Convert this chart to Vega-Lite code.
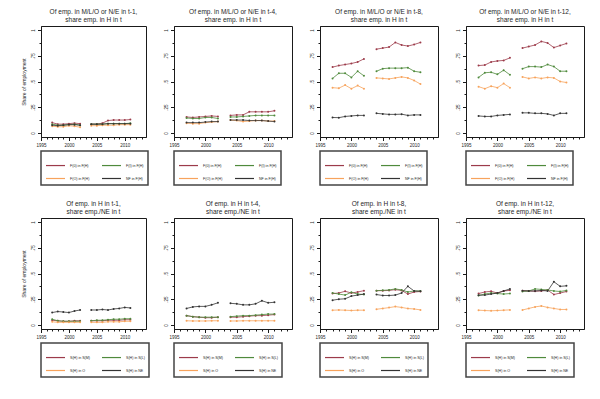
{
  "$schema": "https://vega.github.io/schema/vega-lite/v6.json",
  "background": "white",
  "padding": {"left": 20, "top": 8, "right": 5, "bottom": 5},
  "datasets": {
    "d": [
      {"p":1,"yr":1997,"g":1,"s1":0.10,"s2":0.085,"s3":0.065,"s4":0.075},
      {"p":1,"yr":1998,"g":1,"s1":0.085,"s2":0.075,"s3":0.06,"s4":0.07},
      {"p":1,"yr":1999,"g":1,"s1":0.085,"s2":0.075,"s3":0.06,"s4":0.075},
      {"p":1,"yr":2000,"g":1,"s1":0.09,"s2":0.08,"s3":0.07,"s4":0.08},
      {"p":1,"yr":2001,"g":1,"s1":0.095,"s2":0.085,"s3":0.065,"s4":0.08},
      {"p":1,"yr":2002,"g":1,"s1":0.09,"s2":0.075,"s3":0.055,"s4":0.075},
      {"p":1,"yr":2004,"g":2,"s1":0.085,"s2":0.085,"s3":0.07,"s4":0.085},
      {"p":1,"yr":2005,"g":2,"s1":0.085,"s2":0.085,"s3":0.07,"s4":0.085},
      {"p":1,"yr":2006,"g":2,"s1":0.095,"s2":0.085,"s3":0.075,"s4":0.085},
      {"p":1,"yr":2007,"g":2,"s1":0.12,"s2":0.09,"s3":0.075,"s4":0.09},
      {"p":1,"yr":2008,"g":2,"s1":0.125,"s2":0.09,"s3":0.075,"s4":0.09},
      {"p":1,"yr":2009,"g":2,"s1":0.125,"s2":0.09,"s3":0.08,"s4":0.09},
      {"p":1,"yr":2010,"g":2,"s1":0.125,"s2":0.09,"s3":0.08,"s4":0.09},
      {"p":1,"yr":2011,"g":2,"s1":0.13,"s2":0.095,"s3":0.08,"s4":0.09},

      {"p":2,"yr":1997,"g":1,"s1":0.155,"s2":0.145,"s3":0.095,"s4":0.10},
      {"p":2,"yr":1998,"g":1,"s1":0.15,"s2":0.14,"s3":0.09,"s4":0.10},
      {"p":2,"yr":1999,"g":1,"s1":0.155,"s2":0.14,"s3":0.09,"s4":0.10},
      {"p":2,"yr":2000,"g":1,"s1":0.16,"s2":0.15,"s3":0.10,"s4":0.105},
      {"p":2,"yr":2001,"g":1,"s1":0.165,"s2":0.15,"s3":0.105,"s4":0.11},
      {"p":2,"yr":2002,"g":1,"s1":0.16,"s2":0.14,"s3":0.11,"s4":0.11},
      {"p":2,"yr":2004,"g":2,"s1":0.17,"s2":0.155,"s3":0.125,"s4":0.125},
      {"p":2,"yr":2005,"g":2,"s1":0.175,"s2":0.155,"s3":0.12,"s4":0.125},
      {"p":2,"yr":2006,"g":2,"s1":0.175,"s2":0.16,"s3":0.11,"s4":0.125},
      {"p":2,"yr":2007,"g":2,"s1":0.205,"s2":0.165,"s3":0.115,"s4":0.12},
      {"p":2,"yr":2008,"g":2,"s1":0.205,"s2":0.17,"s3":0.12,"s4":0.12},
      {"p":2,"yr":2009,"g":2,"s1":0.205,"s2":0.17,"s3":0.12,"s4":0.12},
      {"p":2,"yr":2010,"g":2,"s1":0.205,"s2":0.17,"s3":0.115,"s4":0.115},
      {"p":2,"yr":2011,"g":2,"s1":0.215,"s2":0.17,"s3":0.115,"s4":0.11},

      {"p":3,"yr":1997,"g":1,"s1":0.64,"s2":0.53,"s3":0.44,"s4":0.15},
      {"p":3,"yr":1998,"g":1,"s1":0.655,"s2":0.58,"s3":0.435,"s4":0.148},
      {"p":3,"yr":1999,"g":1,"s1":0.665,"s2":0.58,"s3":0.465,"s4":0.16},
      {"p":3,"yr":2000,"g":1,"s1":0.675,"s2":0.54,"s3":0.43,"s4":0.165},
      {"p":3,"yr":2001,"g":1,"s1":0.69,"s2":0.60,"s3":0.46,"s4":0.17},
      {"p":3,"yr":2002,"g":1,"s1":0.72,"s2":0.555,"s3":0.43,"s4":0.17},
      {"p":3,"yr":2004,"g":2,"s1":0.815,"s2":0.60,"s3":0.535,"s4":0.19},
      {"p":3,"yr":2005,"g":2,"s1":0.825,"s2":0.625,"s3":0.53,"s4":0.185},
      {"p":3,"yr":2006,"g":2,"s1":0.835,"s2":0.63,"s3":0.525,"s4":0.18},
      {"p":3,"yr":2007,"g":2,"s1":0.88,"s2":0.63,"s3":0.535,"s4":0.18},
      {"p":3,"yr":2008,"g":2,"s1":0.855,"s2":0.63,"s3":0.545,"s4":0.182},
      {"p":3,"yr":2009,"g":2,"s1":0.845,"s2":0.635,"s3":0.535,"s4":0.17},
      {"p":3,"yr":2010,"g":2,"s1":0.86,"s2":0.60,"s3":0.51,"s4":0.175},
      {"p":3,"yr":2011,"g":2,"s1":0.88,"s2":0.59,"s3":0.475,"s4":0.175},

      {"p":4,"yr":1997,"g":1,"s1":0.655,"s2":0.54,"s3":0.45,"s4":0.165},
      {"p":4,"yr":1998,"g":1,"s1":0.66,"s2":0.585,"s3":0.43,"s4":0.16},
      {"p":4,"yr":1999,"g":1,"s1":0.69,"s2":0.59,"s3":0.455,"s4":0.16},
      {"p":4,"yr":2000,"g":1,"s1":0.70,"s2":0.57,"s3":0.44,"s4":0.17},
      {"p":4,"yr":2001,"g":1,"s1":0.705,"s2":0.61,"s3":0.48,"s4":0.175},
      {"p":4,"yr":2002,"g":1,"s1":0.73,"s2":0.565,"s3":0.44,"s4":0.18},
      {"p":4,"yr":2004,"g":2,"s1":0.825,"s2":0.625,"s3":0.545,"s4":0.195},
      {"p":4,"yr":2005,"g":2,"s1":0.84,"s2":0.645,"s3":0.53,"s4":0.195},
      {"p":4,"yr":2006,"g":2,"s1":0.855,"s2":0.645,"s3":0.54,"s4":0.19},
      {"p":4,"yr":2007,"g":2,"s1":0.89,"s2":0.64,"s3":0.53,"s4":0.19},
      {"p":4,"yr":2008,"g":2,"s1":0.875,"s2":0.665,"s3":0.54,"s4":0.185},
      {"p":4,"yr":2009,"g":2,"s1":0.83,"s2":0.645,"s3":0.535,"s4":0.17},
      {"p":4,"yr":2010,"g":2,"s1":0.85,"s2":0.60,"s3":0.50,"s4":0.19},
      {"p":4,"yr":2011,"g":2,"s1":0.87,"s2":0.60,"s3":0.49,"s4":0.19},

      {"p":5,"yr":1997,"g":1,"s1":0.045,"s2":0.055,"s3":0.03,"s4":0.12},
      {"p":5,"yr":1998,"g":1,"s1":0.04,"s2":0.04,"s3":0.025,"s4":0.13},
      {"p":5,"yr":1999,"g":1,"s1":0.035,"s2":0.035,"s3":0.025,"s4":0.125},
      {"p":5,"yr":2000,"g":1,"s1":0.035,"s2":0.035,"s3":0.025,"s4":0.12},
      {"p":5,"yr":2001,"g":1,"s1":0.04,"s2":0.035,"s3":0.025,"s4":0.135},
      {"p":5,"yr":2002,"g":1,"s1":0.04,"s2":0.035,"s3":0.025,"s4":0.145},
      {"p":5,"yr":2004,"g":2,"s1":0.04,"s2":0.04,"s3":0.025,"s4":0.145},
      {"p":5,"yr":2005,"g":2,"s1":0.04,"s2":0.045,"s3":0.025,"s4":0.145},
      {"p":5,"yr":2006,"g":2,"s1":0.04,"s2":0.045,"s3":0.025,"s4":0.15},
      {"p":5,"yr":2007,"g":2,"s1":0.045,"s2":0.05,"s3":0.03,"s4":0.145},
      {"p":5,"yr":2008,"g":2,"s1":0.045,"s2":0.055,"s3":0.03,"s4":0.155},
      {"p":5,"yr":2009,"g":2,"s1":0.045,"s2":0.055,"s3":0.03,"s4":0.16},
      {"p":5,"yr":2010,"g":2,"s1":0.05,"s2":0.06,"s3":0.035,"s4":0.17},
      {"p":5,"yr":2011,"g":2,"s1":0.05,"s2":0.06,"s3":0.035,"s4":0.165},

      {"p":6,"yr":1997,"g":1,"s1":0.09,"s2":0.09,"s3":0.04,"s4":0.16},
      {"p":6,"yr":1998,"g":1,"s1":0.08,"s2":0.08,"s3":0.038,"s4":0.175},
      {"p":6,"yr":1999,"g":1,"s1":0.075,"s2":0.075,"s3":0.038,"s4":0.18},
      {"p":6,"yr":2000,"g":1,"s1":0.07,"s2":0.075,"s3":0.038,"s4":0.18},
      {"p":6,"yr":2001,"g":1,"s1":0.07,"s2":0.075,"s3":0.04,"s4":0.195},
      {"p":6,"yr":2002,"g":1,"s1":0.075,"s2":0.075,"s3":0.04,"s4":0.215},
      {"p":6,"yr":2004,"g":2,"s1":0.075,"s2":0.08,"s3":0.038,"s4":0.21},
      {"p":6,"yr":2005,"g":2,"s1":0.075,"s2":0.085,"s3":0.038,"s4":0.205},
      {"p":6,"yr":2006,"g":2,"s1":0.08,"s2":0.09,"s3":0.04,"s4":0.195},
      {"p":6,"yr":2007,"g":2,"s1":0.085,"s2":0.09,"s3":0.04,"s4":0.195},
      {"p":6,"yr":2008,"g":2,"s1":0.09,"s2":0.095,"s3":0.04,"s4":0.205},
      {"p":6,"yr":2009,"g":2,"s1":0.09,"s2":0.10,"s3":0.04,"s4":0.235},
      {"p":6,"yr":2010,"g":2,"s1":0.095,"s2":0.105,"s3":0.04,"s4":0.215},
      {"p":6,"yr":2011,"g":2,"s1":0.10,"s2":0.105,"s3":0.04,"s4":0.22},

      {"p":7,"yr":1997,"g":1,"s1":0.305,"s2":0.31,"s3":0.143,"s4":0.24},
      {"p":7,"yr":1998,"g":1,"s1":0.31,"s2":0.30,"s3":0.145,"s4":0.25},
      {"p":7,"yr":1999,"g":1,"s1":0.327,"s2":0.29,"s3":0.143,"s4":0.254},
      {"p":7,"yr":2000,"g":1,"s1":0.31,"s2":0.317,"s3":0.14,"s4":0.28},
      {"p":7,"yr":2001,"g":1,"s1":0.32,"s2":0.30,"s3":0.143,"s4":0.29},
      {"p":7,"yr":2002,"g":1,"s1":0.333,"s2":0.295,"s3":0.143,"s4":0.30},
      {"p":7,"yr":2004,"g":2,"s1":0.333,"s2":0.333,"s3":0.152,"s4":0.295},
      {"p":7,"yr":2005,"g":2,"s1":0.333,"s2":0.336,"s3":0.16,"s4":0.286},
      {"p":7,"yr":2006,"g":2,"s1":0.335,"s2":0.34,"s3":0.168,"s4":0.286},
      {"p":7,"yr":2007,"g":2,"s1":0.343,"s2":0.35,"s3":0.178,"s4":0.29},
      {"p":7,"yr":2008,"g":2,"s1":0.335,"s2":0.34,"s3":0.17,"s4":0.31},
      {"p":7,"yr":2009,"g":2,"s1":0.30,"s2":0.32,"s3":0.159,"s4":0.375},
      {"p":7,"yr":2010,"g":2,"s1":0.32,"s2":0.33,"s3":0.155,"s4":0.33},
      {"p":7,"yr":2011,"g":2,"s1":0.325,"s2":0.33,"s3":0.146,"s4":0.327},

      {"p":8,"yr":1997,"g":1,"s1":0.305,"s2":0.286,"s3":0.143,"s4":0.289},
      {"p":8,"yr":1998,"g":1,"s1":0.32,"s2":0.30,"s3":0.14,"s4":0.29},
      {"p":8,"yr":1999,"g":1,"s1":0.327,"s2":0.31,"s3":0.137,"s4":0.30},
      {"p":8,"yr":2000,"g":1,"s1":0.31,"s2":0.305,"s3":0.14,"s4":0.31},
      {"p":8,"yr":2001,"g":1,"s1":0.33,"s2":0.30,"s3":0.143,"s4":0.33},
      {"p":8,"yr":2002,"g":1,"s1":0.336,"s2":0.305,"s3":0.146,"s4":0.35},
      {"p":8,"yr":2004,"g":2,"s1":0.333,"s2":0.325,"s3":0.145,"s4":0.333},
      {"p":8,"yr":2005,"g":2,"s1":0.33,"s2":0.33,"s3":0.16,"s4":0.33},
      {"p":8,"yr":2006,"g":2,"s1":0.328,"s2":0.35,"s3":0.175,"s4":0.33},
      {"p":8,"yr":2007,"g":2,"s1":0.33,"s2":0.345,"s3":0.184,"s4":0.335},
      {"p":8,"yr":2008,"g":2,"s1":0.34,"s2":0.34,"s3":0.17,"s4":0.33},
      {"p":8,"yr":2009,"g":2,"s1":0.295,"s2":0.33,"s3":0.16,"s4":0.42},
      {"p":8,"yr":2010,"g":2,"s1":0.31,"s2":0.325,"s3":0.15,"s4":0.375},
      {"p":8,"yr":2011,"g":2,"s1":0.325,"s2":0.335,"s3":0.15,"s4":0.38}
    ]
  },
  "config": {
    "font": "Liberation Sans",
    "view": {"stroke": "#1a1a1a", "strokeWidth": 1},
    "title": {"fontSize": 6.5, "fontWeight": "normal", "color": "#1e1e1e", "offset": 3, "lineHeight": 7.5},
    "axis": {"domainColor": "#1a1a1a", "tickColor": "#1a1a1a", "labelFontSize": 4.5, "labelColor": "#1e1e1e", "grid": false, "titleFontSize": 5, "titleFontWeight": "normal", "titleColor": "#1e1e1e"},
    "legend": {"orient": "bottom", "columns": 2, "symbolType": "stroke", "symbolSize": 361, "symbolStrokeWidth": 1.2, "labelFontSize": 3.6, "labelColor": "#1e1e1e", "strokeColor": "#444444", "strokeWidth": 1.5, "fillColor": "white", "padding": 4, "rowPadding": 0, "columnPadding": 9, "offset": 4, "labelLimit": 80, "labelOffset": 4, "gridAlign": "all"}
  },
  "columns": 4,
  "spacing": {"row": 81, "column": 28},
  "bounds": "flush",
  "resolve": {"scale": {"color": "independent"}, "legend": {"color": "independent"}},
  "concat": [
    {
      "width": 105, "height": 111,
      "title": {"text": ["Of emp. in M/L/O or N/E in t-1,", "share emp. in H in t"]},
      "data": {"name": "d"},
      "transform": [{"filter": "datum.p == 1"}, {"fold": ["s1", "s2", "s3", "s4"], "as": ["s", "v"]}],
      "mark": {"type": "line", "strokeWidth": 0.8, "point": {"filled": true, "size": 4}},
      "encoding": {
        "x": {"field": "yr", "type": "quantitative", "scale": {"domain": [1995, 2013.8], "nice": false, "zero": false},
              "axis": {"title": null, "values": [1995,1996,1997,1998,1999,2000,2001,2002,2003,2004,2005,2006,2007,2008,2009,2010,2011,2012,2013], "format": "d", "labelExpr": "datum.value % 5 == 0 ? datum.label : ''", "tickSize": {"condition": {"test": "datum.value % 5 == 0", "value": 3.5}, "value": 2}, "labelPadding": 2, "labelFlush": false}},
        "y": {"field": "v", "type": "quantitative", "scale": {"domain": [-0.04, 1.04], "nice": false},
              "axis": {"title": "Share of employment", "titlePadding": 4, "values": [0,0.125,0.25,0.375,0.5,0.625,0.75,0.875,1], "labelExpr": "datum.value == 0 ? '0' : datum.value == 0.25 ? '.25' : datum.value == 0.5 ? '.5' : datum.value == 0.75 ? '.75' : datum.value == 1 ? '1' : ''", "tickSize": {"condition": {"test": "abs(datum.value*4 - round(datum.value*4)) < 0.01", "value": 3.5}, "value": 2}, "labelAngle": -90, "labelAlign": "center", "labelBaseline": "bottom", "labelPadding": 2}},
        "color": {"field": "s", "type": "nominal", "scale": {"domain": ["s1", "s2", "s3", "s4"], "range": ["#9c3b4a", "#4f8a3c", "#f7a35c", "#333333"]},
                  "legend": {"title": null, "strokeColor": "#444444", "labelExpr": "{'s1':'F(0) in F(H)','s2':'F(I) in F(H)','s3':'F(O) in F(H)','s4':'NF in F(H)'}[datum.value]"}},
        "detail": {"field": "g"}
      }
    },
    {
      "width": 118, "height": 111,
      "title": {"text": ["Of emp. in M/L/O or N/E in t-4,", "share emp. in H in t"]},
      "data": {"name": "d"},
      "transform": [{"filter": "datum.p == 2"}, {"fold": ["s1", "s2", "s3", "s4"], "as": ["s", "v"]}],
      "mark": {"type": "line", "strokeWidth": 0.8, "point": {"filled": true, "size": 4}},
      "encoding": {
        "x": {"field": "yr", "type": "quantitative", "scale": {"domain": [1995, 2013.8], "nice": false, "zero": false},
              "axis": {"title": null, "values": [1995,1996,1997,1998,1999,2000,2001,2002,2003,2004,2005,2006,2007,2008,2009,2010,2011,2012,2013], "format": "d", "labelExpr": "datum.value % 5 == 0 ? datum.label : ''", "tickSize": {"condition": {"test": "datum.value % 5 == 0", "value": 3.5}, "value": 2}, "labelPadding": 2, "labelFlush": false}},
        "y": {"field": "v", "type": "quantitative", "scale": {"domain": [-0.04, 1.04], "nice": false},
              "axis": {"title": null, "values": [0,0.125,0.25,0.375,0.5,0.625,0.75,0.875,1], "labelExpr": "datum.value == 0 ? '0' : datum.value == 0.25 ? '.25' : datum.value == 0.5 ? '.5' : datum.value == 0.75 ? '.75' : datum.value == 1 ? '1' : ''", "tickSize": {"condition": {"test": "abs(datum.value*4 - round(datum.value*4)) < 0.01", "value": 3.5}, "value": 2}, "labelAngle": -90, "labelAlign": "center", "labelBaseline": "bottom", "labelPadding": 2}},
        "color": {"field": "s", "type": "nominal", "scale": {"domain": ["s1", "s2", "s3", "s4"], "range": ["#9c3b4a", "#4f8a3c", "#f7a35c", "#333333"]},
                  "legend": {"title": null, "strokeColor": "#444444", "labelExpr": "{'s1':'F(0) in F(H)','s2':'F(I) in F(H)','s3':'F(O) in F(H)','s4':'NF in F(H)'}[datum.value]"}},
        "detail": {"field": "g"}
      }
    },
    {
      "width": 118, "height": 111,
      "title": {"text": ["Of emp. in M/L/O or N/E in t-8,", "share emp. in H in t"]},
      "data": {"name": "d"},
      "transform": [{"filter": "datum.p == 3"}, {"fold": ["s1", "s2", "s3", "s4"], "as": ["s", "v"]}],
      "mark": {"type": "line", "strokeWidth": 0.8, "point": {"filled": true, "size": 4}},
      "encoding": {
        "x": {"field": "yr", "type": "quantitative", "scale": {"domain": [1995, 2013.8], "nice": false, "zero": false},
              "axis": {"title": null, "values": [1995,1996,1997,1998,1999,2000,2001,2002,2003,2004,2005,2006,2007,2008,2009,2010,2011,2012,2013], "format": "d", "labelExpr": "datum.value % 5 == 0 ? datum.label : ''", "tickSize": {"condition": {"test": "datum.value % 5 == 0", "value": 3.5}, "value": 2}, "labelPadding": 2, "labelFlush": false}},
        "y": {"field": "v", "type": "quantitative", "scale": {"domain": [-0.04, 1.04], "nice": false},
              "axis": {"title": null, "values": [0,0.125,0.25,0.375,0.5,0.625,0.75,0.875,1], "labelExpr": "datum.value == 0 ? '0' : datum.value == 0.25 ? '.25' : datum.value == 0.5 ? '.5' : datum.value == 0.75 ? '.75' : datum.value == 1 ? '1' : ''", "tickSize": {"condition": {"test": "abs(datum.value*4 - round(datum.value*4)) < 0.01", "value": 3.5}, "value": 2}, "labelAngle": -90, "labelAlign": "center", "labelBaseline": "bottom", "labelPadding": 2}},
        "color": {"field": "s", "type": "nominal", "scale": {"domain": ["s1", "s2", "s3", "s4"], "range": ["#9c3b4a", "#4f8a3c", "#f7a35c", "#333333"]},
                  "legend": {"title": null, "strokeColor": "#444444", "labelExpr": "{'s1':'F(0) in F(H)','s2':'F(I) in F(H)','s3':'F(O) in F(H)','s4':'NF in F(H)'}[datum.value]"}},
        "detail": {"field": "g"}
      }
    },
    {
      "width": 118, "height": 111,
      "title": {"text": ["Of emp. in M/L/O or N/E in t-12,", "share emp. in H in t"]},
      "data": {"name": "d"},
      "transform": [{"filter": "datum.p == 4"}, {"fold": ["s1", "s2", "s3", "s4"], "as": ["s", "v"]}],
      "mark": {"type": "line", "strokeWidth": 0.8, "point": {"filled": true, "size": 4}},
      "encoding": {
        "x": {"field": "yr", "type": "quantitative", "scale": {"domain": [1995, 2013.8], "nice": false, "zero": false},
              "axis": {"title": null, "values": [1995,1996,1997,1998,1999,2000,2001,2002,2003,2004,2005,2006,2007,2008,2009,2010,2011,2012,2013], "format": "d", "labelExpr": "datum.value % 5 == 0 ? datum.label : ''", "tickSize": {"condition": {"test": "datum.value % 5 == 0", "value": 3.5}, "value": 2}, "labelPadding": 2, "labelFlush": false}},
        "y": {"field": "v", "type": "quantitative", "scale": {"domain": [-0.04, 1.04], "nice": false},
              "axis": {"title": null, "values": [0,0.125,0.25,0.375,0.5,0.625,0.75,0.875,1], "labelExpr": "datum.value == 0 ? '0' : datum.value == 0.25 ? '.25' : datum.value == 0.5 ? '.5' : datum.value == 0.75 ? '.75' : datum.value == 1 ? '1' : ''", "tickSize": {"condition": {"test": "abs(datum.value*4 - round(datum.value*4)) < 0.01", "value": 3.5}, "value": 2}, "labelAngle": -90, "labelAlign": "center", "labelBaseline": "bottom", "labelPadding": 2}},
        "color": {"field": "s", "type": "nominal", "scale": {"domain": ["s1", "s2", "s3", "s4"], "range": ["#9c3b4a", "#4f8a3c", "#f7a35c", "#333333"]},
                  "legend": {"title": null, "strokeColor": "#444444", "labelExpr": "{'s1':'F(0) in F(H)','s2':'F(I) in F(H)','s3':'F(O) in F(H)','s4':'NF in F(H)'}[datum.value]"}},
        "detail": {"field": "g"}
      }
    },
    {
      "width": 105, "height": 111,
      "title": {"text": ["Of emp. in H in t-1,", "share emp./NE in t"]},
      "data": {"name": "d"},
      "transform": [{"filter": "datum.p == 5"}, {"fold": ["s1", "s2", "s3", "s4"], "as": ["s", "v"]}],
      "mark": {"type": "line", "strokeWidth": 0.8, "point": {"filled": true, "size": 4}},
      "encoding": {
        "x": {"field": "yr", "type": "quantitative", "scale": {"domain": [1995, 2013.8], "nice": false, "zero": false},
              "axis": {"title": null, "values": [1995,1996,1997,1998,1999,2000,2001,2002,2003,2004,2005,2006,2007,2008,2009,2010,2011,2012,2013], "format": "d", "labelExpr": "datum.value % 5 == 0 ? datum.label : ''", "tickSize": {"condition": {"test": "datum.value % 5 == 0", "value": 3.5}, "value": 2}, "labelPadding": 2, "labelFlush": false}},
        "y": {"field": "v", "type": "quantitative", "scale": {"domain": [-0.04, 1.04], "nice": false},
              "axis": {"title": "Share of employment", "titlePadding": 4, "values": [0,0.125,0.25,0.375,0.5,0.625,0.75,0.875,1], "labelExpr": "datum.value == 0 ? '0' : datum.value == 0.25 ? '.25' : datum.value == 0.5 ? '.5' : datum.value == 0.75 ? '.75' : datum.value == 1 ? '1' : ''", "tickSize": {"condition": {"test": "abs(datum.value*4 - round(datum.value*4)) < 0.01", "value": 3.5}, "value": 2}, "labelAngle": -90, "labelAlign": "center", "labelBaseline": "bottom", "labelPadding": 2}},
        "color": {"field": "s", "type": "nominal", "scale": {"domain": ["s1", "s2", "s3", "s4"], "range": ["#9c3b4a", "#4f8a3c", "#f7a35c", "#333333"]},
                  "legend": {"title": null, "strokeColor": "#444444", "labelExpr": "{'s1':'S(H) in S(M)','s2':'S(H) in S(L)','s3':'S(H) in O','s4':'S(H) in NE'}[datum.value]"}},
        "detail": {"field": "g"}
      }
    },
    {
      "width": 118, "height": 111,
      "title": {"text": ["Of emp. in H in t-4,", "share emp./NE in t"]},
      "data": {"name": "d"},
      "transform": [{"filter": "datum.p == 6"}, {"fold": ["s1", "s2", "s3", "s4"], "as": ["s", "v"]}],
      "mark": {"type": "line", "strokeWidth": 0.8, "point": {"filled": true, "size": 4}},
      "encoding": {
        "x": {"field": "yr", "type": "quantitative", "scale": {"domain": [1995, 2013.8], "nice": false, "zero": false},
              "axis": {"title": null, "values": [1995,1996,1997,1998,1999,2000,2001,2002,2003,2004,2005,2006,2007,2008,2009,2010,2011,2012,2013], "format": "d", "labelExpr": "datum.value % 5 == 0 ? datum.label : ''", "tickSize": {"condition": {"test": "datum.value % 5 == 0", "value": 3.5}, "value": 2}, "labelPadding": 2, "labelFlush": false}},
        "y": {"field": "v", "type": "quantitative", "scale": {"domain": [-0.04, 1.04], "nice": false},
              "axis": {"title": null, "values": [0,0.125,0.25,0.375,0.5,0.625,0.75,0.875,1], "labelExpr": "datum.value == 0 ? '0' : datum.value == 0.25 ? '.25' : datum.value == 0.5 ? '.5' : datum.value == 0.75 ? '.75' : datum.value == 1 ? '1' : ''", "tickSize": {"condition": {"test": "abs(datum.value*4 - round(datum.value*4)) < 0.01", "value": 3.5}, "value": 2}, "labelAngle": -90, "labelAlign": "center", "labelBaseline": "bottom", "labelPadding": 2}},
        "color": {"field": "s", "type": "nominal", "scale": {"domain": ["s1", "s2", "s3", "s4"], "range": ["#9c3b4a", "#4f8a3c", "#f7a35c", "#333333"]},
                  "legend": {"title": null, "strokeColor": "#444444", "labelExpr": "{'s1':'S(H) in S(M)','s2':'S(H) in S(L)','s3':'S(H) in O','s4':'S(H) in NE'}[datum.value]"}},
        "detail": {"field": "g"}
      }
    },
    {
      "width": 118, "height": 111,
      "title": {"text": ["Of emp. in H in t-8,", "share emp./NE in t"]},
      "data": {"name": "d"},
      "transform": [{"filter": "datum.p == 7"}, {"fold": ["s1", "s2", "s3", "s4"], "as": ["s", "v"]}],
      "mark": {"type": "line", "strokeWidth": 0.8, "point": {"filled": true, "size": 4}},
      "encoding": {
        "x": {"field": "yr", "type": "quantitative", "scale": {"domain": [1995, 2013.8], "nice": false, "zero": false},
              "axis": {"title": null, "values": [1995,1996,1997,1998,1999,2000,2001,2002,2003,2004,2005,2006,2007,2008,2009,2010,2011,2012,2013], "format": "d", "labelExpr": "datum.value % 5 == 0 ? datum.label : ''", "tickSize": {"condition": {"test": "datum.value % 5 == 0", "value": 3.5}, "value": 2}, "labelPadding": 2, "labelFlush": false}},
        "y": {"field": "v", "type": "quantitative", "scale": {"domain": [-0.04, 1.04], "nice": false},
              "axis": {"title": null, "values": [0,0.125,0.25,0.375,0.5,0.625,0.75,0.875,1], "labelExpr": "datum.value == 0 ? '0' : datum.value == 0.25 ? '.25' : datum.value == 0.5 ? '.5' : datum.value == 0.75 ? '.75' : datum.value == 1 ? '1' : ''", "tickSize": {"condition": {"test": "abs(datum.value*4 - round(datum.value*4)) < 0.01", "value": 3.5}, "value": 2}, "labelAngle": -90, "labelAlign": "center", "labelBaseline": "bottom", "labelPadding": 2}},
        "color": {"field": "s", "type": "nominal", "scale": {"domain": ["s1", "s2", "s3", "s4"], "range": ["#9c3b4a", "#4f8a3c", "#f7a35c", "#333333"]},
                  "legend": {"title": null, "strokeColor": "#444444", "labelExpr": "{'s1':'S(H) in S(M)','s2':'S(H) in S(L)','s3':'S(H) in O','s4':'S(H) in NE'}[datum.value]"}},
        "detail": {"field": "g"}
      }
    },
    {
      "width": 118, "height": 111,
      "title": {"text": ["Of emp. in H in t-12,", "share emp./NE in t"]},
      "data": {"name": "d"},
      "transform": [{"filter": "datum.p == 8"}, {"fold": ["s1", "s2", "s3", "s4"], "as": ["s", "v"]}],
      "mark": {"type": "line", "strokeWidth": 0.8, "point": {"filled": true, "size": 4}},
      "encoding": {
        "x": {"field": "yr", "type": "quantitative", "scale": {"domain": [1995, 2013.8], "nice": false, "zero": false},
              "axis": {"title": null, "values": [1995,1996,1997,1998,1999,2000,2001,2002,2003,2004,2005,2006,2007,2008,2009,2010,2011,2012,2013], "format": "d", "labelExpr": "datum.value % 5 == 0 ? datum.label : ''", "tickSize": {"condition": {"test": "datum.value % 5 == 0", "value": 3.5}, "value": 2}, "labelPadding": 2, "labelFlush": false}},
        "y": {"field": "v", "type": "quantitative", "scale": {"domain": [-0.04, 1.04], "nice": false},
              "axis": {"title": null, "values": [0,0.125,0.25,0.375,0.5,0.625,0.75,0.875,1], "labelExpr": "datum.value == 0 ? '0' : datum.value == 0.25 ? '.25' : datum.value == 0.5 ? '.5' : datum.value == 0.75 ? '.75' : datum.value == 1 ? '1' : ''", "tickSize": {"condition": {"test": "abs(datum.value*4 - round(datum.value*4)) < 0.01", "value": 3.5}, "value": 2}, "labelAngle": -90, "labelAlign": "center", "labelBaseline": "bottom", "labelPadding": 2}},
        "color": {"field": "s", "type": "nominal", "scale": {"domain": ["s1", "s2", "s3", "s4"], "range": ["#9c3b4a", "#4f8a3c", "#f7a35c", "#333333"]},
                  "legend": {"title": null, "strokeColor": "#444444", "labelExpr": "{'s1':'S(H) in S(M)','s2':'S(H) in S(L)','s3':'S(H) in O','s4':'S(H) in NE'}[datum.value]"}},
        "detail": {"field": "g"}
      }
    }
  ]
}
